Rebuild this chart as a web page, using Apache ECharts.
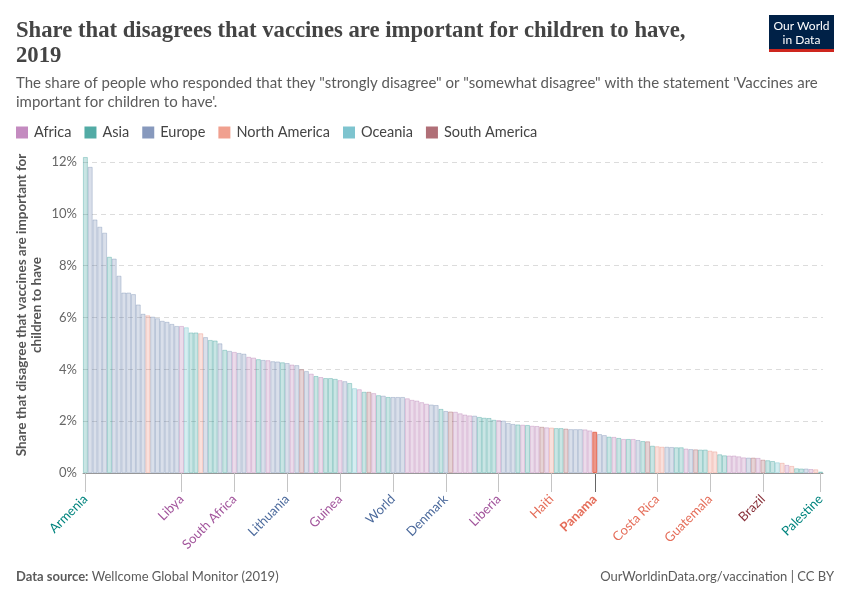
<!DOCTYPE html>
<html><head><meta charset="utf-8">
<script src="https://cdn.jsdelivr.net/npm/echarts@6/dist/echarts.min.js"></script>
<style>html,body{margin:0;padding:0;background:#fff}#c{width:850px;height:600px}</style>
</head><body><div id="c"></div>
<script>
// ---- data ----
const regionNames = ['Africa', 'Asia', 'Europe', 'North America', 'Oceania', 'South America'];
const regionCodeNames = { A: 'Africa', S: 'Asia', E: 'Europe', N: 'North America', O: 'Oceania', M: 'South America' };

// share that disagree (%), sorted descending, one bar per country
const values = [
  12.19, 11.81, 9.78, 9.50, 9.27, 8.34, 8.27, 7.61, 6.96, 6.96,
  6.90, 6.50, 6.14, 6.08, 6.03, 5.97, 5.87, 5.83, 5.75, 5.67,
  5.67, 5.62, 5.42, 5.42, 5.39, 5.24, 5.13, 5.11, 5.00, 4.75,
  4.71, 4.67, 4.63, 4.60, 4.48, 4.45, 4.39, 4.36, 4.35, 4.31,
  4.30, 4.27, 4.24, 4.18, 4.16, 4.00, 3.93, 3.83, 3.74, 3.70,
  3.66, 3.66, 3.63, 3.58, 3.54, 3.47, 3.27, 3.23, 3.13, 3.13,
  3.08, 3.00, 2.98, 2.93, 2.93, 2.93, 2.93, 2.88, 2.82, 2.79,
  2.73, 2.67, 2.64, 2.62, 2.47, 2.39, 2.37, 2.36, 2.30, 2.25,
  2.22, 2.21, 2.16, 2.13, 2.12, 2.05, 2.04, 2.02, 1.93, 1.89,
  1.87, 1.86, 1.85, 1.82, 1.81, 1.78, 1.76, 1.75, 1.73, 1.73,
  1.71, 1.69, 1.69, 1.69, 1.68, 1.64, 1.59, 1.50, 1.46, 1.40,
  1.39, 1.35, 1.31, 1.31, 1.31, 1.27, 1.23, 1.22, 1.05, 1.03,
  1.01, 1.01, 1.00, 0.99, 0.99, 0.94, 0.92, 0.91, 0.90, 0.90,
  0.86, 0.83, 0.72, 0.68, 0.67, 0.67, 0.64, 0.60, 0.59, 0.59,
  0.58, 0.51, 0.49, 0.46, 0.41, 0.39, 0.31, 0.27, 0.18, 0.17,
  0.17, 0.15, 0.14, 0.05
];

// continent of each bar (A Africa, S Asia, E Europe, N North America, O Oceania, M South America)
const regionCodes = [
  'S','E','E','E','E','S','E','E','E','E',
  'E','E','E','N','E','E','E','E','E','E',
  'A','O','S','S','N','E','S','S','E','S',
  'E','A','E','E','A','A','S','E','A','E',
  'E','S','E','A','E','M','E','A','S','A',
  'S','S','S','A','E','S','O','A','S','M',
  'A','S','E','S','E','E','E','A','A','A',
  'A','A','E','E','S','E','M','A','A','A',
  'A','E','S','S','S','S','A','E','E','E',
  'S','A','S','A','A','M','A','N','S','S',
  'M','E','E','E','A','A','N','E','E','S',
  'A','S','A','S','A','E','S','M','S','N',
  'N','E','E','S','S','A','E','M','S','S',
  'N','N','S','S','A','A','A','A','E','M',
  'A','M','S','S','O','N','A','N','S','S',
  'E','A','N','S'
];

// labelled bars (index -> country name)
const labelIndex = [0, 20, 31, 42, 53, 64, 75, 86, 97, 106, 119, 130, 141, 153];
const labelNames = ['Armenia', 'Libya', 'South Africa', 'Lithuania', 'Guinea', 'World', 'Denmark',
  'Liberia', 'Haiti', 'Panama', 'Costa Rica', 'Guatemala', 'Brazil', 'Palestine'];
const highlightName = 'Panama';

const yTicks = [0, 2, 4, 6, 8, 10, 12];

// ---- styles ----
const baseColors = { 'Africa': '#a2559c', 'Asia': '#00847e', 'Europe': '#4c6a9c', 'North America': '#e56e5a', 'Oceania': '#38aaba', 'South America': '#883039' };
const legendColors = { 'Africa': '#c48bc0', 'Asia': '#52aba5', 'Europe': '#8799bd', 'North America': '#f0a08f', 'Oceania': '#7ec4cf', 'South America': '#b06f77' };
function rgba(hex, a) {
  const n = parseInt(hex.slice(1), 16);
  return 'rgba(' + (n >> 16) + ',' + ((n >> 8) & 255) + ',' + (n & 255) + ',' + a + ')';
}
const richKey = { 'Africa': 'A', 'Asia': 'S', 'Europe': 'E', 'North America': 'N', 'Oceania': 'O', 'South America': 'M' };

const categories = values.map((v, i) => {
  const li = labelIndex.indexOf(i);
  return li >= 0 ? labelNames[li] : ('c' + i);
});
const highlightIdx = categories.indexOf(highlightName);

const series = regionNames.map(rn => ({
  name: rn,
  type: 'bar',
  barGap: '-100%',
  barCategoryGap: '0%',
  clip: false,
  animation: false,
  emphasis: { disabled: true },
  itemStyle: { color: rgba(baseColors[rn], 0.21), borderColor: rgba(baseColors[rn], 0.34), borderWidth: 0.8 },
  data: values.map((v, i) => {
    if (regionCodeNames[regionCodes[i]] !== rn) return '-';
    if (i === highlightIdx) return { value: v, itemStyle: { color: rgba(baseColors[rn], 0.72), borderColor: baseColors[rn], borderWidth: 1 } };
    return v;
  })
}));

const rich = {};
regionNames.forEach(rn => { rich[richKey[rn]] = { color: baseColors[rn], fontSize: 13, fontFamily: 'Lato' }; });
rich.H = { color: '#e56e5a', fontSize: 13, fontFamily: 'Lato', fontWeight: 'bold' };

const chart = echarts.init(document.getElementById('c'), null, { renderer: 'canvas' });
const isLabelled = (idx) => labelIndex.indexOf(idx) >= 0;

const graphics = [
  { type: 'text', left: 16, top: 19, style: { text: 'Share that disagrees that vaccines are important for children to have,\n2019', fontFamily: 'Liberation Serif', fontWeight: 'bold', fontSize: 22.7, lineHeight: 25, fill: '#444' } },
  { type: 'text', left: 16, top: 74, style: { text: 'The share of people who responded that they "strongly disagree" or "somewhat disagree" with the statement \'Vaccines are\nimportant for children to have\'.', fontFamily: 'Lato', fontSize: 15, lineHeight: 19, fill: '#5b5b5b' } },
  { type: 'text', x: 29, y: 305, rotation: Math.PI / 2, style: { text: 'Share that disagree that vaccines are important for\nchildren to have', fontFamily: 'Lato', fontWeight: 'bold', fontSize: 13.5, lineHeight: 14.5, fill: '#555', align: 'center', verticalAlign: 'middle' } },
  { type: 'group', left: 769, top: 15, children: [
    { type: 'rect', shape: { x: 0, y: 0, width: 65, height: 37 }, style: { fill: '#002147' } },
    { type: 'rect', shape: { x: 0, y: 34, width: 65, height: 3 }, style: { fill: '#ce261e' } },
    { type: 'text', x: 32.5, y: 11.5, style: { text: 'Our World', fontFamily: 'Lato', fontSize: 12, fill: '#fff', align: 'center', verticalAlign: 'middle' } },
    { type: 'text', x: 32.5, y: 25, style: { text: 'in Data', fontFamily: 'Lato', fontSize: 12, fill: '#fff', align: 'center', verticalAlign: 'middle' } }
  ]},
  { type: 'text', left: 16, top: 570, style: { rich: { b: { fontWeight: 'bold', fontFamily: 'Lato', fontSize: 13, fill: '#5b5b5b' }, n: { fontFamily: 'Lato', fontSize: 13, fill: '#5b5b5b' } }, text: '{b|Data source:} {n|Wellcome Global Monitor (2019)}' } },
  { type: 'text', right: 16, top: 570, style: { text: 'OurWorldinData.org/vaccination | CC BY', fontFamily: 'Lato', fontSize: 13, fill: '#5b5b5b' } }
];

chart.setOption({
  backgroundColor: '#fff',
  animation: false,
  textStyle: { fontFamily: 'Lato' },
  grid: { left: 83, right: 27, top: 162, bottom: 127, containLabel: false },
  legend: {
    left: 11, top: 120, icon: 'rect', itemWidth: 12, itemHeight: 12, itemGap: 13,
    selectedMode: false,
    textStyle: { fontSize: 14.5, color: '#444', fontFamily: 'Lato', padding: [0, 0, 0, 1] },
    data: regionNames.map(rn => ({ name: rn, itemStyle: { color: legendColors[rn], borderWidth: 0 } }))
  },
  xAxis: {
    type: 'category',
    data: categories,
    axisLine: { show: true, lineStyle: { color: '#999', width: 1 } },
    axisTick: { show: true, alignWithLabel: true, interval: (i) => isLabelled(i), length: 19, lineStyle: { color: '#c4c4c4' } },
    axisLabel: {
      interval: (i) => isLabelled(i),
      rotate: 45,
      margin: 24,
      rich: rich,
      formatter: (val, idx) => {
        const code = regionCodes[idx];
        const key = idx === highlightIdx ? 'H' : code;
        return '{' + key + '|' + val + '}';
      }
    },
    splitLine: { show: false }
  },
  yAxis: {
    type: 'value',
    min: yTicks[0], max: yTicks[yTicks.length - 1], interval: yTicks[1] - yTicks[0],
    axisLine: { show: false }, axisTick: { show: false },
    axisLabel: { formatter: v => v + '%', color: '#666', fontSize: 13, fontFamily: 'Lato', margin: 6 },
    splitLine: { show: true, lineStyle: { color: '#dcdcdc', type: [5, 4], width: 1 } }
  },
  series: series,
  graphic: graphics
});

// darker tick under the highlighted bar, positioned through the axis scales
const px = chart.convertToPixel({ xAxisIndex: 0 }, highlightIdx);
const py = chart.convertToPixel({ yAxisIndex: 0 }, yTicks[0]);
graphics.push({ type: 'line', shape: { x1: Math.round(px) + 0.5, y1: py + 1, x2: Math.round(px) + 0.5, y2: py + 19 }, style: { stroke: '#666', lineWidth: 1 }, z: 10 });
chart.setOption({ graphic: graphics }, { replaceMerge: ['graphic'] });
</script>
</body></html>
